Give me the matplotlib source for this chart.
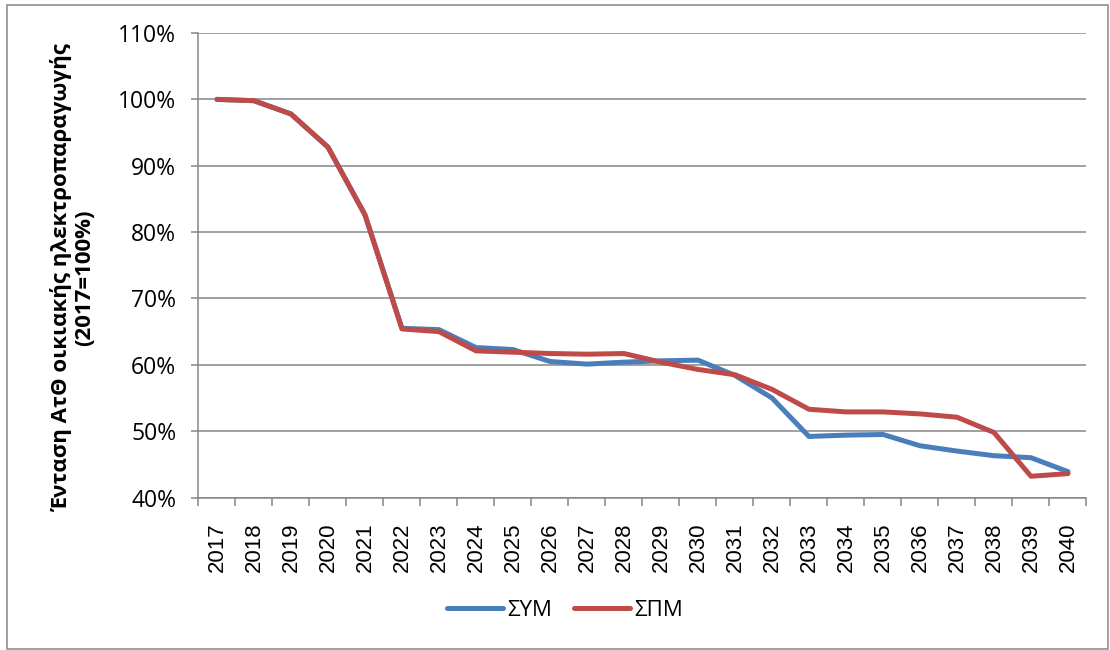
import matplotlib
matplotlib.use("Agg")
import matplotlib.pyplot as plt
from matplotlib.patches import Rectangle
from matplotlib.ticker import FixedLocator, PercentFormatter

# intensity of household electricity generation, 2017 = 100%
years = [str(y) for y in range(2017, 2041)]
sym = [100.0, 99.8, 97.8, 92.8, 82.6, 65.5, 65.3, 62.6, 62.3, 60.5, 60.1, 60.4,
       60.6, 60.7, 58.4, 55.0, 49.2, 49.4, 49.5, 47.8, 47.0, 46.3, 46.0, 43.9]
spm = [100.0, 99.8, 97.8, 92.8, 82.6, 65.4, 65.0, 62.1, 61.9, 61.7, 61.6, 61.7,
       60.4, 59.3, 58.5, 56.3, 53.3, 52.9, 52.9, 52.6, 52.1, 49.8, 43.2, 43.6]
series_names = ["ΣΥΜ", "ΣΠΜ"]
y_label = "Ένταση ΑτΘ οικιακής ηλεκτροπαραγωγής\n(2017=100%)"

BLUE = "#4A7EBB"
RED = "#BE4B48"
GRID = "#868686"

fig = plt.figure(figsize=(11.1, 6.5), dpi=100)
ax = fig.add_axes([0.1788, 0.2346, 0.8, 0.7146])

x = list(range(len(years)))
ax.plot(x, sym, color=BLUE, lw=3.6, solid_capstyle="round", solid_joinstyle="round",
        label=series_names[0], zorder=3)
ax.plot(x, spm, color=RED, lw=3.6, solid_capstyle="round", solid_joinstyle="round",
        label=series_names[1], zorder=4)

ax.set_xlim(-0.5, len(years) - 0.5)
ax.set_ylim(40, 110)
ax.set_yticks(range(40, 111, 10))
ax.yaxis.set_major_formatter(PercentFormatter(decimals=0))
ax.grid(axis="y", color=GRID, lw=1.1)
ax.set_axisbelow(True)

ax.set_xticks(x)
ax.set_xticklabels(years, rotation=90, fontsize=16, family=["Liberation Sans", "DejaVu Sans"])
ax.xaxis.set_minor_locator(FixedLocator([i - 0.5 for i in range(len(years) + 1)]))
ax.tick_params(axis="x", which="major", length=0, pad=18)
ax.tick_params(axis="x", which="minor", length=5.5, width=1.1, color=GRID)
ax.tick_params(axis="y", length=5, width=1.1, color=GRID, pad=11)
for lbl in ax.get_yticklabels():
    lbl.set_fontsize(16.5)
    lbl.set_family(["Open Sans", "DejaVu Sans"])

for side in ("top", "right"):
    ax.spines[side].set_visible(False)
for side in ("left", "bottom"):
    ax.spines[side].set_color(GRID)
    ax.spines[side].set_linewidth(1.1)

fig.text(73 / 1110, 1 - 278 / 650, y_label, rotation=90, ha="center", va="center",
         multialignment="center", fontsize=16, fontweight="bold",
         family=["Open Sans", "DejaVu Sans"], linespacing=1.1)

fig.legend(loc="center", bbox_to_anchor=(565 / 1110, 1 - 610 / 650), ncol=2, frameon=False,
           handlelength=2.5, handletextpad=0.2, columnspacing=1.0,
           prop={"family": ["Open Sans", "DejaVu Sans"], "size": 16})

# outer chart border
fig.patches.append(Rectangle((7 / 1110, 1 / 650), 1101 / 1110, 644 / 650, transform=fig.transFigure,
                             fill=False, edgecolor=GRID, lw=1.1))

fig.savefig("out.png", dpi=100)
